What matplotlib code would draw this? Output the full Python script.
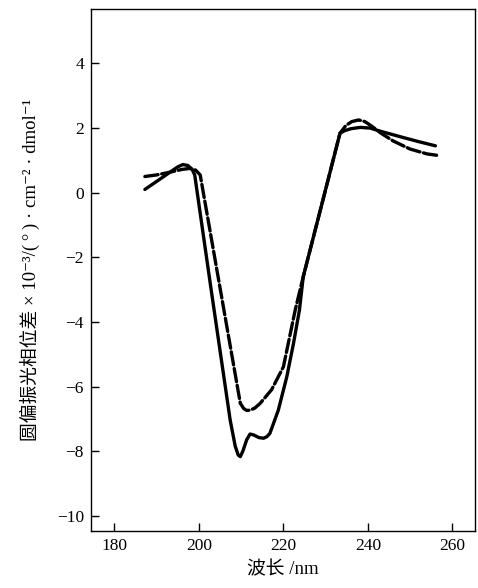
import matplotlib
matplotlib.use("Agg")
import matplotlib.pyplot as plt

# Solid curve
solid_x = [187.2, 190.0, 193.0, 195.0, 196.2, 197.4, 198.4, 199.0, 203.0, 207.4, 208.6, 209.3, 209.8, 210.4, 211.3, 212.1, 213.0, 214.2, 215.3, 216.1, 216.8, 218.8, 220.8, 222.4, 223.8, 224.7, 229.9, 233.4, 234.5, 236.0, 238.2, 240.5, 243.0, 248.0, 252.0, 256.0]
solid_y = [0.10, 0.35, 0.62, 0.80, 0.87, 0.84, 0.72, 0.55, -3.10, -7.04, -7.85, -8.12, -8.17, -8.00, -7.65, -7.47, -7.50, -7.58, -7.60, -7.55, -7.45, -6.73, -5.70, -4.66, -3.63, -2.60, 0.05, 1.84, 1.92, 1.98, 2.02, 2.00, 1.90, 1.72, 1.58, 1.45]

# Dashed curve
dash_x = [187.2, 190.0, 193.0, 196.0, 197.8, 199.2, 200.3, 209.8, 210.6, 211.3, 212.1, 213.2, 214.5, 217.2, 220.0, 222.8, 224.7, 229.9, 233.4, 234.8, 236.2, 237.8, 239.3, 241.0, 243.0, 246.0, 250.0, 254.0, 256.7]
dash_y = [0.50, 0.55, 0.63, 0.72, 0.75, 0.70, 0.55, -6.52, -6.68, -6.74, -6.73, -6.67, -6.52, -6.10, -5.39, -3.63, -2.60, 0.05, 1.84, 2.08, 2.20, 2.25, 2.20, 2.05, 1.85, 1.60, 1.35, 1.20, 1.15]

xticks = [180, 200, 220, 240, 260]
yticks = [-10, -8, -6, -4, -2, 0, 2, 4]

plt.rcParams['font.family'] = ['Liberation Serif', 'DejaVu Serif', 'Noto Sans CJK SC']

fig = plt.figure(figsize=(4.78, 5.88), dpi=100)
ax = fig.add_axes([0.190, 0.097, 0.804, 0.888])

ax.plot(solid_x, solid_y, color='black', lw=2.4, solid_capstyle='round', solid_joinstyle='round')
ax.plot(dash_x, dash_y, color='black', lw=2.4, linestyle=(0, (4.0, 1.1)), dash_capstyle='round', dash_joinstyle='round')

ax.set_xlim(174.4, 265.4)
ax.set_ylim(-10.47, 5.69)
ax.set_xticks(xticks)
ax.set_yticks(yticks)
ax.set_yticklabels(['\u221210', '\u22128', '\u22126', '\u22124', '\u22122', '0', '2', '4'])
ax.tick_params(direction='in', length=6, width=1.0, labelsize=12.5, pad=5)
for s in ax.spines.values():
    s.set_linewidth(1.0)

ax.set_xlabel('波长 /nm', fontsize=13.5, labelpad=5)
ax.set_ylabel('圆偏振光相位差 × 10\u207b\u00b3/(\u2009°\u2009) · cm\u207b\u00b2 · dmol\u207b\u00b9', fontsize=13.5, labelpad=12)

fig.savefig('out.png', dpi=100)
